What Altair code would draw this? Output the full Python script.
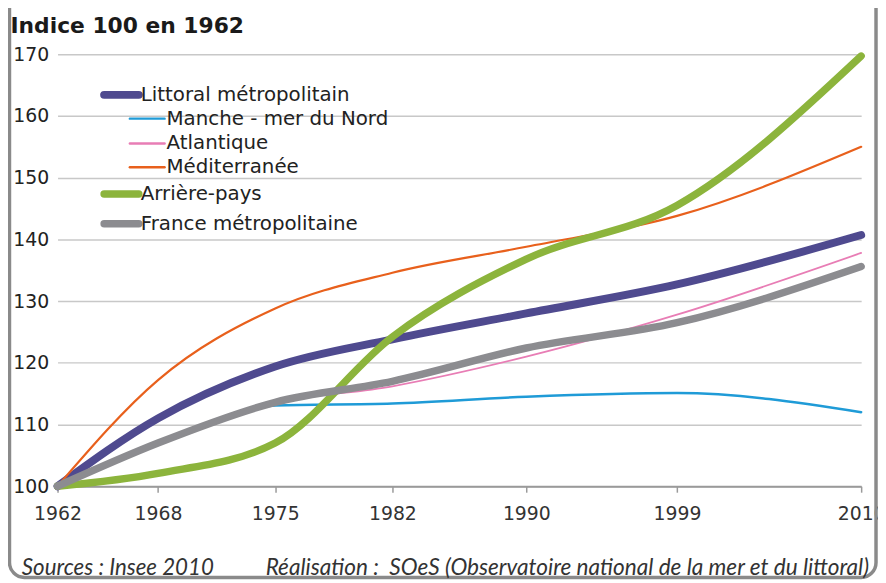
import altair as alt
import pandas as pd

# ---- data ----
years = [1962, 1968, 1975, 1982, 1990, 1999, 2010]
littoral = [100, 111.0, 119.4, 123.8, 128.0, 132.7, 140.7]
manche = [100, 106.8, 113.1, 113.4, 114.5, 115.1, 112.0]
atlantique = [100, 107.0, 113.4, 116.2, 121.0, 127.8, 137.8]
mediterranee = [100, 117.2, 128.8, 134.6, 138.8, 143.8, 155.0]
arriere_pays = [100, 102.1, 107.0, 124.2, 136.8, 145.5, 169.7]
france = [100, 107.0, 113.6, 117.0, 122.4, 126.5, 135.6]

series_names = [
    "Littoral métropolitain",
    "Manche - mer du Nord",
    "Atlantique",
    "Méditerranée",
    "Arrière-pays",
    "France métropolitaine",
]
series_values = [littoral, manche, atlantique, mediterranee, arriere_pays, france]
y_ticks = [100, 110, 120, 130, 140, 150, 160, 170]

source_text = "Sources : Insee 2010"
credit_text = "Réalisation :\u00a0 SOeS (Observatoire national de la mer et du littoral)"

# ---- styles ----
colors = ["#4F4A8F", "#1F9BD7", "#E87DB5", "#E8601C", "#8CB43C", "#8C8C90"]
widths = [8, 2.5, 1.8, 2.2, 7.5, 7.5]
indented = [False, True, True, True, False, False]
legend_rows_y = [41, 65, 90, 114, 141, 171]

W, H = 811, 436
FONT = "DejaVu Sans"

x_enc = alt.X(
    "year:Q",
    scale=alt.Scale(domain=[1962, 2010], nice=False, zero=False),
    axis=alt.Axis(
        values=years, format="d", title=None, grid=False,
        domain=True, domainColor="#9A9A9A", domainWidth=2,
        ticks=True, tickColor="#9A9A9A", tickSize=6, tickWidth=1.5,
        labelFont=FONT, labelFontSize=19, labelColor="#333333",
        labelPadding=13, labelFlush=False, labelOverlap=False,
    ),
)
y_enc = alt.Y(
    "value:Q",
    scale=alt.Scale(domain=[100, 170], nice=False, zero=False),
    axis=alt.Axis(
        values=y_ticks, format="d", grid=True, gridColor="#C8C8C8", gridWidth=1.5,
        domain=False, ticks=False,
        labelFont=FONT, labelFontSize=19, labelColor="#222222", labelPadding=9,
        title="Indice 100 en 1962", titleAngle=0, titleX=-48, titleY=-22,
        titleAlign="left", titleBaseline="alphabetic",
        titleFont=FONT, titleFontSize=22, titleFontWeight="bold", titleColor="#1A1A1A",
    ),
)

layers = []

# frame
frame_df = pd.DataFrame({"k": [0]})
layers.append(
    alt.Chart(frame_df).mark_rect(
        fill=None, stroke="#8A8A8A", strokeWidth=3.5, cornerRadius=15
    ).encode(
        x=alt.value(-48.5), x2=alt.value(W + 15), y=alt.value(-90), y2=alt.value(H + 92)
    )
)

# series lines (drawn in legend order, later on top)
for name, vals, col, w in zip(series_names, series_values, colors, widths):
    df = pd.DataFrame({"year": years, "value": vals, "serie": name})
    layers.append(
        alt.Chart(df).mark_line(
            color=col, strokeWidth=w, strokeCap="round", strokeJoin="round",
            interpolate="monotone",
        ).encode(x=x_enc, y=y_enc)
    )

# manual legend
for i, (name, col, w, ind) in enumerate(zip(series_names, colors, widths, indented)):
    x0 = 73 if ind else 47
    x1 = x0 + 35
    yy = legend_rows_y[i]
    ldf = pd.DataFrame({"label": [name]})
    layers.append(
        alt.Chart(ldf).mark_rule(color=col, strokeWidth=w if w > 3 else 2.5,
                                 strokeCap="round").encode(
            x=alt.value(x0), x2=alt.value(x1), y=alt.value(yy)
        )
    )
    layers.append(
        alt.Chart(ldf).mark_text(
            align="left", baseline="middle", font=FONT, fontSize=20, color="#222222"
        ).encode(x=alt.value(x1 + 2), y=alt.value(yy), text="label:N")
    )

# footer
for txt, px, fs in [(source_text, -36, 22.5), (credit_text, 210, 22.8)]:
    fdf = pd.DataFrame({"label": [txt]})
    layers.append(
        alt.Chart(fdf).mark_text(
            align="left", baseline="alphabetic", font="Lato", fontStyle="italic",
            fontSize=fs, color="#333333",
        ).encode(x=alt.value(px), y=alt.value(H + 90), text="label:N")
    )

chart = alt.layer(*layers).properties(
    width=W, height=H,
    autosize=alt.AutoSizeParams(type="none"),
    padding={"left": 50, "top": 44, "right": 17, "bottom": 95},
    background="white",
).configure_view(strokeWidth=0)

chart.save("out.html", embed_options={"renderer": "svg", "actions": False})
